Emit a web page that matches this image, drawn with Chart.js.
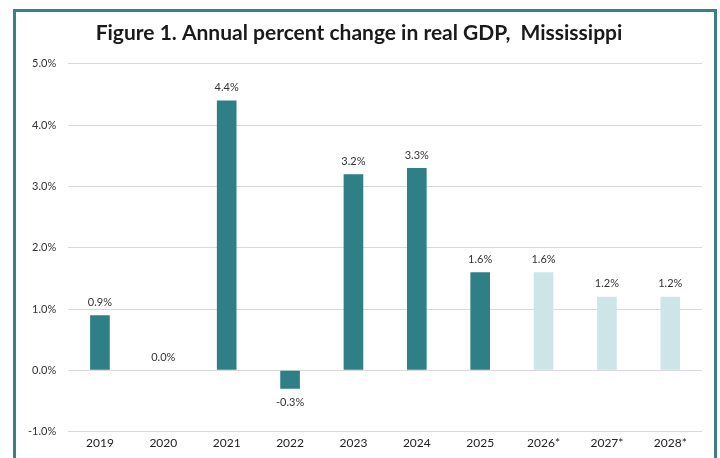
<!DOCTYPE html>
<html>
<head>
<meta charset="utf-8">
<script src="https://cdn.jsdelivr.net/npm/chart.js@4"></script>
<style>
  html, body { margin: 0; padding: 0; background: #fff; }
  #wrap { position: relative; width: 720px; height: 458px; overflow: hidden; }
  #frame {
    position: absolute; left: 13px; top: 9px; width: 704px; height: 470px;
    border: 3px solid #3a7e86; box-sizing: border-box;
  }
  canvas { position: absolute; left: 0; top: 0; }
</style>
</head>
<body>
<div id="wrap">
  <div id="frame"></div>
  <canvas id="gdp-chart" width="720" height="458"></canvas>
</div>
<script>
const years = ['2019', '2020', '2021', '2022', '2023', '2024', '2025', '2026*', '2027*', '2028*'];
const growth = [0.9, 0.0, 4.4, -0.3, 3.2, 3.3, 1.6, 1.6, 1.2, 1.2];
const forecast = [false, false, false, false, false, false, false, true, true, true];
const yTicks = [-1, 0, 1, 2, 3, 4, 5];

const actualColor = '#2f7f87';
const forecastColor = '#cde5e8';

// value labels above (or below) each bar
const barLabels = {
  id: 'barLabels',
  afterDatasetsDraw(chart) {
    const ctx = chart.ctx;
    const meta = chart.getDatasetMeta(0);
    ctx.save();
    ctx.font = '11px Lato';
    ctx.fillStyle = '#333';
    ctx.textAlign = 'center';
    ctx.textBaseline = 'middle';
    meta.data.forEach((bar, i) => {
      const v = growth[i];
      const text = v.toFixed(1) + '%';
      const y = v < 0 ? bar.y + 14 : bar.y - 13;
      ctx.fillText(text, bar.x, y);
    });
    ctx.restore();
  }
};

new Chart(document.getElementById('gdp-chart').getContext('2d'), {
  type: 'bar',
  data: {
    labels: years,
    datasets: [{
      data: growth,
      backgroundColor: forecast.map(f => f ? forecastColor : actualColor),
      barPercentage: 0.31,
      categoryPercentage: 1
    }]
  },
  options: {
    responsive: false,
    animation: false,
    layout: { padding: { top: 12, left: 16, right: 18, bottom: 4 } },
    plugins: {
      legend: { display: false },
      tooltip: { enabled: false },
      title: {
        display: true,
        text: 'Figure 1. Annual percent change in real GDP,  Mississippi',
        color: '#1a1a1a',
        font: { family: 'Lato', size: 21, weight: 'bold' },
        padding: { top: 9, bottom: 17.6 }
      }
    },
    scales: {
      x: {
        grid: { display: false, drawTicks: false },
        border: { display: false },
        ticks: { color: '#222', font: { family: 'Lato', size: 12 }, padding: 4 }
      },
      y: {
        min: -1,
        max: 5,
        afterBuildTicks: axis => { axis.ticks = yTicks.map(v => ({ value: v })); },
        grid: { color: '#d9d9d9', drawTicks: false },
        border: { display: false },
        ticks: {
          color: '#333',
          font: { family: 'Lato', size: 11 },
          padding: 12,
          callback: v => v.toFixed(1) + '%'
        }
      }
    }
  },
  plugins: [barLabels]
});
</script>
</body>
</html>
